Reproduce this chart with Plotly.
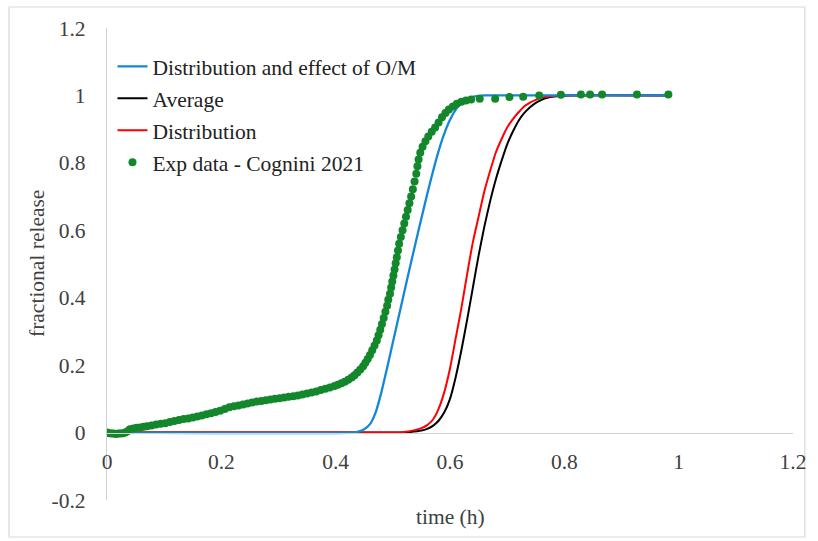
import plotly.graph_objects as go

# ---------------- data ----------------
blue_t = [0.00, 0.43, 0.44, 0.45, 0.46, 0.47, 0.48, 0.49, 0.50, 0.51, 0.52, 0.53, 0.54, 0.55,
          0.56, 0.57, 0.58, 0.59, 0.60, 0.61, 0.62, 0.63, 0.64, 0.65, 0.66, 0.68, 0.70, 0.98]
blue_v = [0.000, 0.000, 0.003, 0.010, 0.025, 0.060, 0.120, 0.192, 0.267, 0.342, 0.417, 0.491, 0.564, 0.636,
          0.706, 0.773, 0.835, 0.887, 0.928, 0.958, 0.977, 0.989, 0.996, 0.999, 1.000, 1.000, 1.000, 1.000]

red_t = [0.00, 0.50, 0.52, 0.54, 0.55, 0.56, 0.57, 0.58, 0.59, 0.60, 0.61, 0.62, 0.63, 0.64, 0.65,
         0.66, 0.67, 0.68, 0.69, 0.70, 0.71, 0.72, 0.73, 0.74, 0.75, 0.76, 0.78, 0.80, 0.98]
red_v = [0.000, 0.000, 0.002, 0.008, 0.013, 0.022, 0.038, 0.070, 0.120, 0.190, 0.280, 0.370, 0.470, 0.565, 0.640,
         0.715, 0.775, 0.830, 0.870, 0.905, 0.930, 0.950, 0.968, 0.979, 0.987, 0.993, 0.998, 1.000, 1.000]

black_t = [0.00, 0.51, 0.53, 0.55, 0.56, 0.57, 0.58, 0.59, 0.60, 0.61, 0.62, 0.63, 0.64, 0.65, 0.66,
           0.67, 0.68, 0.69, 0.70, 0.71, 0.72, 0.73, 0.74, 0.75, 0.76, 0.77, 0.79, 0.81, 0.98]
black_v = [0.000, 0.000, 0.002, 0.006, 0.011, 0.020, 0.035, 0.060, 0.100, 0.165, 0.245, 0.335, 0.430, 0.525, 0.610,
           0.685, 0.750, 0.805, 0.855, 0.893, 0.925, 0.948, 0.965, 0.978, 0.987, 0.993, 0.998, 1.000, 1.000]

exp_t = [0.000, 0.004, 0.008, 0.012, 0.016, 0.020, 0.024, 0.028, 0.032, 0.036,
         0.040, 0.046, 0.052, 0.058, 0.064, 0.070, 0.078, 0.086, 0.094, 0.102,
         0.110, 0.118, 0.126, 0.134, 0.142, 0.150, 0.158, 0.166, 0.174, 0.182,
         0.190, 0.198, 0.206, 0.214, 0.222, 0.230, 0.238, 0.246, 0.254, 0.262,
         0.270, 0.278, 0.286, 0.294, 0.302, 0.310, 0.318, 0.326, 0.334, 0.342,
         0.350, 0.358, 0.366, 0.374, 0.382, 0.390, 0.398, 0.404, 0.410, 0.416,
         0.422, 0.428, 0.433, 0.438, 0.443, 0.448, 0.452, 0.456, 0.460, 0.464,
         0.468, 0.472, 0.475, 0.478, 0.481, 0.484, 0.487, 0.490, 0.492, 0.495,
         0.497, 0.499, 0.501, 0.503, 0.505, 0.507, 0.509, 0.511, 0.514, 0.517,
         0.520, 0.523, 0.526, 0.529, 0.532, 0.535, 0.538, 0.541, 0.543, 0.545,
         0.548, 0.552, 0.557, 0.562, 0.568, 0.574, 0.580, 0.586, 0.592, 0.598,
         0.605, 0.612, 0.620, 0.628, 0.637, 0.652, 0.679, 0.704, 0.728, 0.756,
         0.794, 0.829, 0.845, 0.866, 0.927, 0.982]
exp_v = [0.000, -0.002, -0.003, -0.003, -0.004, -0.003, -0.003, -0.002, 0.000, 0.004,
         0.010, 0.012, 0.014, 0.015, 0.017, 0.019, 0.021, 0.024, 0.026, 0.028,
         0.031, 0.034, 0.037, 0.040, 0.042, 0.045, 0.048, 0.051, 0.054, 0.057,
         0.061, 0.065, 0.070, 0.075, 0.078, 0.080, 0.083, 0.086, 0.089, 0.092,
         0.094, 0.096, 0.098, 0.100, 0.102, 0.104, 0.106, 0.108, 0.110, 0.113,
         0.116, 0.119, 0.122, 0.126, 0.130, 0.134, 0.138, 0.142, 0.146, 0.151,
         0.157, 0.163, 0.170, 0.178, 0.187, 0.197, 0.207, 0.218, 0.230, 0.244,
         0.258, 0.273, 0.289, 0.305, 0.322, 0.340, 0.358, 0.376, 0.394, 0.412,
         0.430, 0.448, 0.466, 0.484, 0.502, 0.520, 0.540, 0.560, 0.580, 0.600,
         0.620, 0.640, 0.660, 0.680, 0.700, 0.722, 0.745, 0.768, 0.790, 0.810,
         0.830, 0.848, 0.864, 0.878, 0.892, 0.905, 0.920, 0.935, 0.948, 0.958,
         0.967, 0.975, 0.981, 0.985, 0.988, 0.990, 0.990, 0.995, 0.996, 1.000,
         1.002, 1.003, 1.003, 1.003, 1.003, 1.003]

x_tickvals = [0, 0.2, 0.4, 0.6, 0.8, 1.0, 1.2]
x_ticktext = ["0", "0.2", "0.4", "0.6", "0.8", "1", "1.2"]
y_tickvals = [-0.2, 0, 0.2, 0.4, 0.6, 0.8, 1.0, 1.2]
y_ticktext = ["-0.2", "0", "0.2", "0.4", "0.6", "0.8", "1", "1.2"]

# ---------------- figure ----------------
FONT = "Liberation Serif, Times New Roman, serif"
FS = 21.5
BLUE = "#1487d6"
GREEN = "#12872b"

fig = go.Figure()
fig.add_trace(go.Scatter(x=black_t, y=black_v, mode="lines", name="Average",
                         line=dict(color="#000000", width=2, shape="spline", smoothing=0.6),
                         legendrank=2, legendgroup="b"))
fig.add_trace(go.Scatter(x=red_t, y=red_v, mode="lines", name="Distribution",
                         line=dict(color="#ff0000", width=2, shape="spline", smoothing=0.6),
                         legendrank=3, legendgroup="r"))
fig.add_trace(go.Scatter(x=blue_t, y=blue_v, mode="lines", name="Distribution and effect of O/M",
                         line=dict(color=BLUE, width=2.3, shape="spline", smoothing=0.6),
                         legendrank=1, legendgroup="u"))
fig.add_trace(go.Scatter(x=exp_t, y=exp_v, mode="markers", name="Exp data - Cognini 2021",
                         marker=dict(color=GREEN, size=8),
                         legendrank=4, legendgroup="g"))

fig.update_layout(
    width=818, height=541,
    margin=dict(l=107, r=18, t=28, b=41),
    paper_bgcolor="white", plot_bgcolor="white",
    font=dict(family=FONT, size=FS, color="#404040"),
    showlegend=True,
    legend=dict(x=0.008, y=0.962, xanchor="left", yanchor="top",
                bgcolor="rgba(0,0,0,0)", font=dict(family=FONT, size=FS, color="#222222"),
                tracegroupgap=1, itemwidth=30),
    xaxis=dict(range=[0, 1.2], tickvals=x_tickvals, ticktext=x_ticktext,
               showgrid=False, zeroline=False, showline=True, linecolor="#d0d0d0", linewidth=1.3,
               anchor="free", position=1/7,
               ticks="outside", ticklen=9, tickcolor="rgba(0,0,0,0)",
               tickfont=dict(family=FONT, size=FS, color="#404040")),
    yaxis=dict(range=[-0.2, 1.2], tickvals=y_tickvals, ticktext=y_ticktext,
               showgrid=False, zeroline=False, showline=True, linecolor="#d0d0d0", linewidth=1.3,
               ticks="outside", ticklen=16, tickcolor="rgba(0,0,0,0)",
               tickfont=dict(family=FONT, size=FS, color="#404040")),
    shapes=[dict(type="rect", xref="paper", yref="paper",
                 x0=-99/693, x1=1 + 12/693, y0=-37/472, y1=1 + 21/472,
                 line=dict(color="#d9d9d9", width=1.2), fillcolor="rgba(0,0,0,0)", layer="below")],
    annotations=[
        dict(text="time (h)", xref="paper", yref="paper", x=0.5, y=0, xanchor="center",
             yanchor="middle", yshift=-17, showarrow=False,
             font=dict(family=FONT, size=FS, color="#404040")),
        dict(text="fractional release", xref="paper", yref="paper", x=0, y=0.5,
             xanchor="center", yanchor="middle", xshift=-70, textangle=-90, showarrow=False,
             font=dict(family=FONT, size=FS, color="#404040")),
    ],
)

fig.write_html("out.html")
